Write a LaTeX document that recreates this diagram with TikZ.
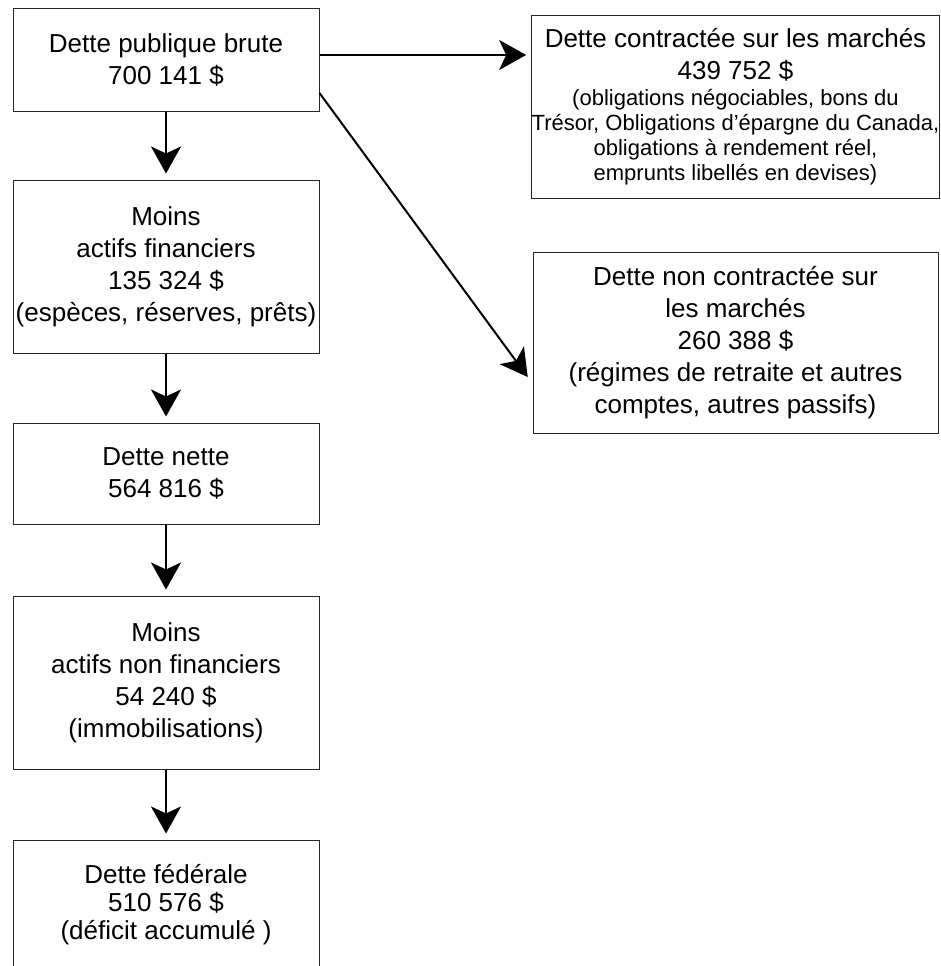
\documentclass[tikz,border=0pt]{standalone}
\usepackage{fontspec}
\setmainfont{Liberation Sans}
\usepackage{tikz}
\usetikzlibrary{arrows,arrows.meta,shapes}
\usetikzlibrary{positioning}
\tikzstyle{box}=[draw=black!85, rectangle, line width=1pt, minimum width=306pt, align=center, inner sep=0pt, font=\fontsize{26}{32}\selectfont]
\tikzstyle{widebox}=[box, minimum width=405pt]
\tikzstyle{arrow}=[draw, -{Stealth[length=27pt,width=30pt,inset=7pt]}, line width=2.4pt, shorten >=6pt]
\newcommand{\smalltxt}{\fontsize{22}{25}\selectfont}

\begin{document}
\begin{tikzpicture}[x=1pt,y=1pt]
\useasboundingbox (0,0) rectangle (940,-966);
\clip (0,0) rectangle (940,-966);
% left column
\node [box, minimum height=102pt] (gross) at (166,-60) {Dette publique brute\\700 141 \$};
\node [box, below of=gross, node distance=206.5pt, minimum height=173pt] (finasset) {Moins\\actifs financiers\\135 324 \$\\(espèces, réserves, prêts)};
\node [box, below of=finasset, node distance=207pt, minimum height=101pt] (net) {Dette nette\\564 816 \$};
\node [box, below of=net, node distance=209pt, minimum height=173pt] (nonfin) {Moins\\actifs non financiers\\54 240 \$\\(immobilisations)};
\node [box, below of=nonfin, node distance=222.5pt, minimum height=130pt] (fed) {Dette fédérale\\[-4pt]510 576 \$\\[-4pt](déficit accumulé )};
% right column
\node [widebox, minimum height=182pt] (mkt) at (735.5,-107) {Dette contractée sur les marchés\\439 752 \$\\[-6pt]{\smalltxt (obligations négociables, bons du}\\[-7pt]{\smalltxt Trésor, Obligations d’épargne du Canada,}\\[-7pt]{\smalltxt obligations à rendement réel,}\\[-7pt]{\smalltxt emprunts libellés en devises)}};
\node [widebox, below of=mkt, node distance=235.5pt, minimum height=181pt] (nonmkt) {Dette non contractée sur\\les marchés\\260 388 \$\\(régimes de retraite et autres\\comptes, autres passifs)};

\draw[arrow] (gross) -- (finasset);
\draw[arrow] (finasset) -- (net);
\draw[arrow] (net) -- (nonfin);
\draw[arrow] (nonfin) -- (fed);
\draw[arrow, line width=2.2pt, shorten >=5pt] ([yshift=5pt]gross.east) -- ([yshift=5pt]gross.east -| mkt.west);
\draw[arrow, line width=2pt, shorten >=8pt] ([yshift=-33pt]gross.east) -- ([yshift=-41pt]nonmkt.west);
\end{tikzpicture}
\end{document}
